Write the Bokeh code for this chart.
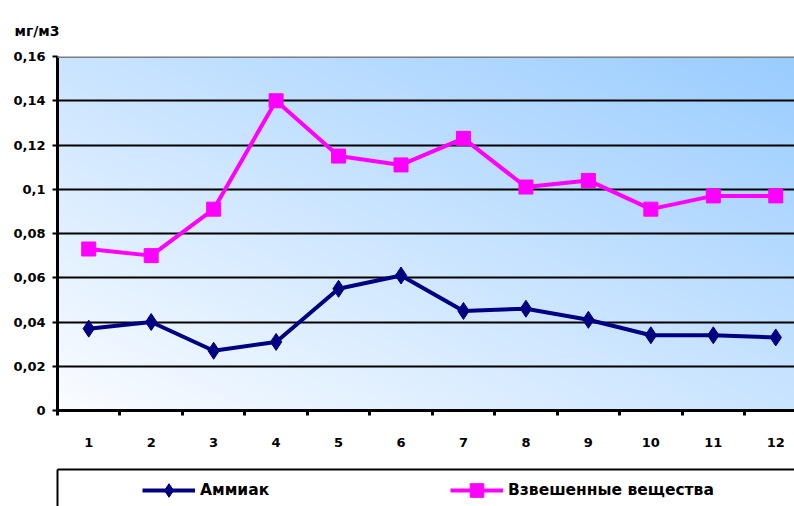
import numpy as np
from bokeh.plotting import figure
from bokeh.layouts import column
from bokeh.models import (FixedTicker, Legend, LegendItem, Span, Range1d,
                          ColumnDataSource, LinearAxis)
from bokeh.embed import file_html
from bokeh.resources import INLINE

# Monthly concentrations, mg/m3
months = list(range(1, 13))
month_labels = [str(m) for m in months]
ammonia = [0.037, 0.040, 0.027, 0.031, 0.055, 0.061, 0.045, 0.046, 0.041, 0.034, 0.034, 0.033]
suspended = [0.073, 0.070, 0.091, 0.140, 0.115, 0.111, 0.123, 0.101, 0.104, 0.091, 0.097, 0.097]
series_names = ["Аммиак", "Взвешенные вещества"]
y_ticks = [0, 0.02, 0.04, 0.06, 0.08, 0.1, 0.12, 0.14, 0.16]
y_tick_labels = ["0", "0,02", "0,04", "0,06", "0,08", "0,1", "0,12", "0,14", "0,16"]
unit_label = "мг/м3"

FONT = "DejaVu Sans"
X0, X1 = 0.5, 12.3
Y0, Y1 = 0.0, 0.16

src = ColumnDataSource(data=dict(month=months, ammonia=ammonia, suspended=suspended))

NAVY = "#000080"
MAGENTA = "#FF00FF"
series_styles = [
    dict(col="ammonia", color=NAVY, marker="diamond", size=17),
    dict(col="suspended", color=MAGENTA, marker="square", size=14),
]


def draw_series(fig):
    out = []
    for st in series_styles:
        ln = fig.line("month", st["col"], source=src, line_color=st["color"], line_width=4)
        mk = fig.scatter("month", st["col"], source=src, marker=st["marker"],
                         size=st["size"], fill_color=st["color"], line_color=st["color"])
        out.append([ln, mk])
    return out


p = figure(width=794, height=460, output_backend="svg", toolbar_location=None,
           x_range=Range1d(X0, X1), y_range=Range1d(Y0, Y1),
           min_border_left=57, min_border_right=0, min_border_top=56,
           min_border_bottom=50, outline_line_color=None,
           background_fill_color="white", border_fill_color="white")

# unit caption above the value axis
p.title.text = unit_label
p.title.align = "left"
p.title.offset = -43
p.title.standoff = 36
p.title.text_font = FONT
p.title.text_font_style = "bold"
p.title.text_font_size = "14px"
p.title.text_color = "black"

# diagonal gradient for the plot area: near-white bottom-left to light blue top-right
H, W = 177, 369
u = np.linspace(0.0, 1.0, W)[None, :]
v = np.linspace(0.0, 1.0, H)[:, None]
t = (u + v) / 2.0
c0 = np.array([250, 252, 255], dtype=float)
c1 = np.array([153, 204, 255], dtype=float)
img = np.empty((H, W), dtype=np.uint32)
view = img.view(dtype=np.uint8).reshape((H, W, 4))
for k in range(3):
    view[:, :, k] = np.round(c0[k] + (c1[k] - c0[k]) * t).astype(np.uint8)
view[:, :, 3] = 255
p.image_rgba(image=[img], x=X0, y=Y0, dw=X1 - X0, dh=Y1 - Y0, level="image")

# grid
p.xgrid.visible = False
p.ygrid.ticker = FixedTicker(ticks=y_ticks[1:-1])
p.ygrid.grid_line_color = "black"
p.ygrid.grid_line_width = 2
p.add_layout(Span(location=Y1, dimension="width", line_color="#808080", line_width=3))

# axes
p.yaxis.ticker = FixedTicker(ticks=y_ticks)
p.yaxis.major_label_overrides = dict(zip(y_ticks, y_tick_labels))
p.xaxis.ticker = FixedTicker(ticks=months, minor_ticks=[m - 0.5 for m in months])
p.xaxis.major_label_overrides = dict(zip(months, month_labels))
for ax in (p.xaxis, p.yaxis):
    ax.axis_line_color = "black"
    ax.axis_line_width = 3
    ax.major_label_text_font = FONT
    ax.major_label_text_font_style = "bold"
    ax.major_label_text_font_size = "13px"
    ax.major_label_text_color = "black"
p.yaxis.major_tick_in = 0
p.yaxis.major_tick_out = 5
p.yaxis.major_tick_line_width = 2
p.yaxis.major_tick_line_color = "black"
p.yaxis.minor_tick_line_color = None
p.yaxis.major_label_standoff = 7
p.xaxis.major_tick_in = 0
p.xaxis.major_tick_out = 0
p.xaxis.minor_tick_in = 0
p.xaxis.minor_tick_out = 5
p.xaxis.minor_tick_line_width = 3
p.xaxis.minor_tick_line_color = "black"
p.xaxis.major_label_standoff = 22

draw_series(p)

# legend strip: its own frame gives the boxed area; the series are drawn
# here off-range so only their legend swatches show
lg = figure(width=794, height=46, output_backend="svg", toolbar_location=None,
            x_range=Range1d(-20, -10), y_range=Range1d(0, 1),
            x_axis_location=None, y_axis_location=None,
            min_border_left=53, min_border_right=0, min_border_top=9,
            min_border_bottom=0, outline_line_color=None,
            background_fill_color="white", border_fill_color="white")
lg.grid.visible = False
for side in ("above", "left"):
    edge = LinearAxis(ticker=FixedTicker(ticks=[]), major_tick_line_color=None,
                      minor_tick_line_color=None, axis_line_color="black",
                      axis_line_width=2, major_label_standoff=0)
    lg.add_layout(edge, side)
pairs = draw_series(lg)
legend = Legend(items=[LegendItem(label=name, renderers=rs)
                       for name, rs in zip(series_names, pairs)],
                orientation="horizontal", location=(85, -1), padding=0, margin=0,
                border_line_color=None, background_fill_alpha=0,
                glyph_width=53, glyph_height=34, label_standoff=5,
                label_width=240, spacing=10, label_text_font=FONT,
                label_text_font_style="bold", label_text_font_size="15.5px",
                label_text_color="black")
lg.add_layout(legend)

open("out.html", "w").write(file_html(column(p, lg, spacing=0), INLINE))
